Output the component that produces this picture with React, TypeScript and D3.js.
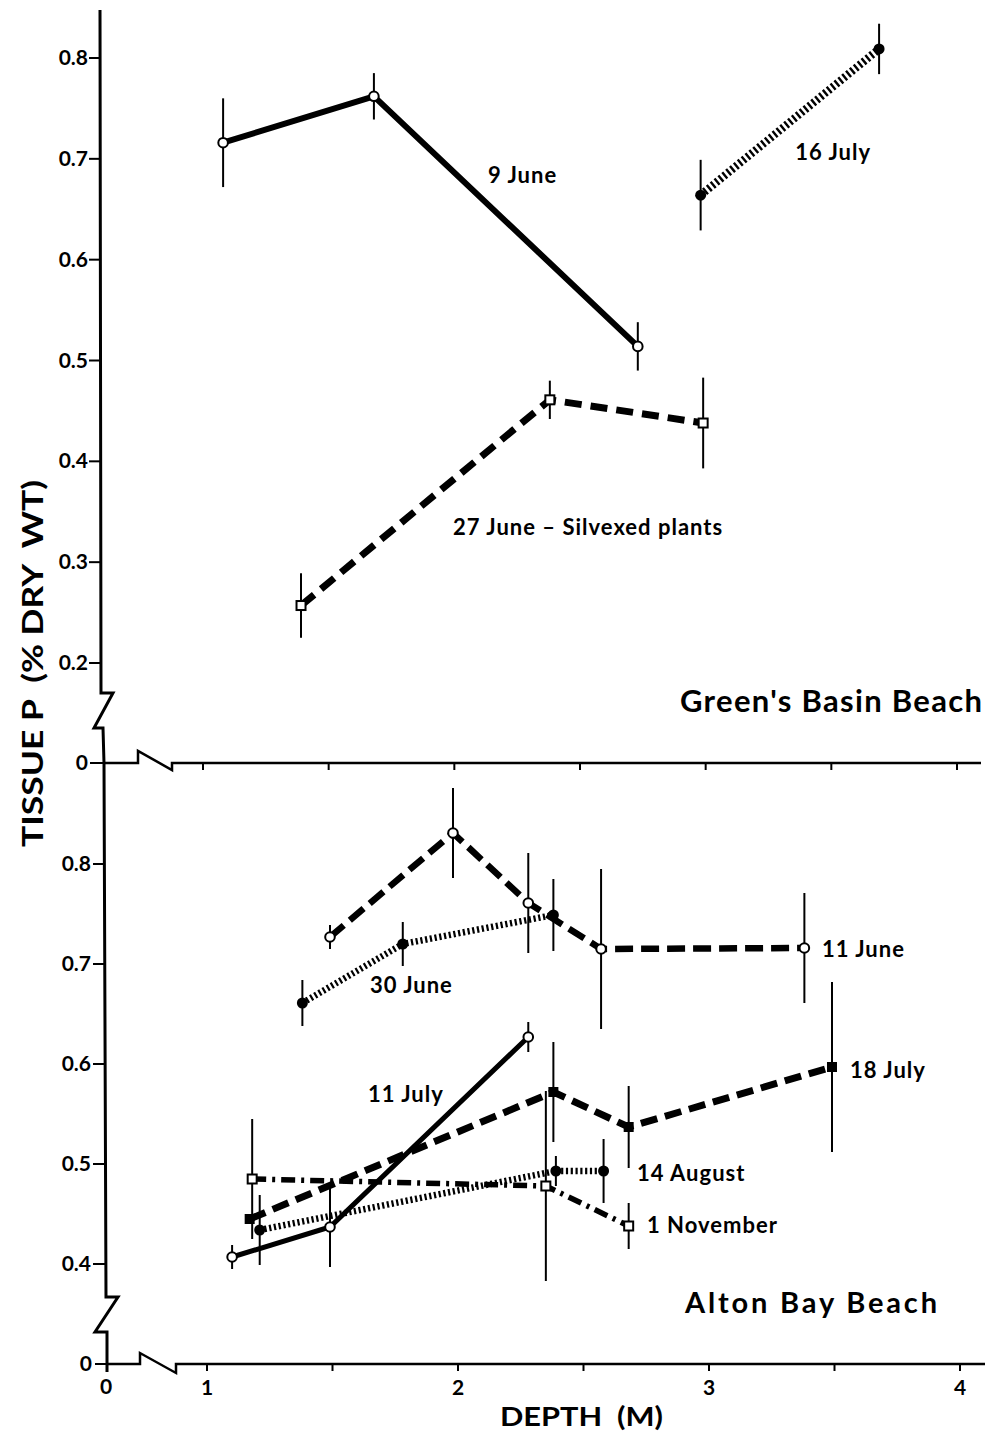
import React from "react";
import * as d3 from "d3";

// ---------- Green's Basin Beach ----------
const jun9Depth = [1.08, 1.68, 2.73];
const jun9P = [0.716, 0.762, 0.514];
const jun9Err = [0.044, 0.023, 0.024];

const jul16Depth = [2.98, 3.69];
const jul16P = [0.664, 0.809];
const jul16Err = [0.035, 0.025];

const jun27Depth = [1.39, 2.38, 2.99];
const jun27P = [0.257, 0.461, 0.438];
const jun27Err = [0.032, 0.019, 0.045];

// ---------- Alton Bay Beach ----------
const jun11Depth = [1.49, 1.98, 2.28, 2.57, 3.38];
const jun11P = [0.727, 0.831, 0.761, 0.715, 0.716];
const jun11Err = [0.012, 0.045, 0.05, 0.08, 0.055];

const jun30Depth = [1.38, 1.78, 2.38];
const jun30P = [0.661, 0.72, 0.749];
const jun30Err = [0.023, 0.022, 0.036];

const jul11Depth = [1.1, 1.49, 2.28];
const jul11P = [0.407, 0.437, 0.627];
const jul11Err = [0.012, 0.04, 0.015];

const jul18Depth = [1.17, 2.38, 2.68, 3.49];
const jul18P = [0.445, 0.572, 0.537, 0.597];
const jul18Err = [0.0, 0.05, 0.041, 0.085];

const aug14Depth = [1.21, 2.39, 2.58];
const aug14P = [0.434, 0.493, 0.493];
const aug14Err = [0.035, 0.015, 0.032];

const nov1Depth = [1.18, 2.35, 2.68];
const nov1P = [0.485, 0.478, 0.438];
const nov1Err = [0.06, 0.095, 0.023];

// ---------- ticks ----------
const yTicksTop = [0.2, 0.3, 0.4, 0.5, 0.6, 0.7, 0.8];
const yTicksBottom = [0.4, 0.5, 0.6, 0.7, 0.8];
const xTicks = [1, 1.5, 2, 2.5, 3, 3.5, 4];
const xTickLabels = [1, 2, 3, 4];

// ---------- labels (data coordinates) ----------
const topLabels = [
  { text: "9 June", d: 2.134, v: 0.676 },
  { text: "16 July", d: 3.356, v: 0.699 },
  { text: "27 June \u2013 Silvexed plants", d: 1.995, v: 0.327 },
];
const bottomLabels = [
  { text: "30 June", d: 1.649, v: 0.671 },
  { text: "11 June", d: 3.45, v: 0.707 },
  { text: "18 July", d: 3.562, v: 0.586 },
  { text: "11 July", d: 1.641, v: 0.562 },
  { text: "14 August", d: 2.713, v: 0.483 },
  { text: "1 November", d: 2.753, v: 0.431 },
];

type Style = { dash: string; width: number; marker: "oc" | "fc" | "os" | "fs" };

const FONT = "Lato, 'DejaVu Sans', sans-serif";

function zip(dep: number[], p: number[], e: number[]) {
  return dep.map((d, i) => ({ d, v: p[i], e: e[i] }));
}

export default function App() {
  const W = 987,
    H = 1439;
  const xTop = d3.scaleLinear().domain([1, 4]).range([203, 957]);
  const yTop = d3.scaleLinear().domain([0.2, 0.8]).range([663, 58]);
  const xBot = d3.scaleLinear().domain([1, 4]).range([207, 960]);
  const yBot = d3.scaleLinear().domain([0.4, 0.8]).range([1264, 864]);

  const topSeries: { pts: any[]; st: Style }[] = [
    { pts: zip(jun9Depth, jun9P, jun9Err), st: { dash: "", width: 6, marker: "oc" } },
    { pts: zip(jul16Depth, jul16P, jul16Err), st: { dash: "2.4,2.6", width: 8, marker: "fc" } },
    { pts: zip(jun27Depth, jun27P, jun27Err), st: { dash: "17,9", width: 7, marker: "os" } },
  ];
  const botSeries: { pts: any[]; st: Style }[] = [
    { pts: zip(jun11Depth, jun11P, jun11Err), st: { dash: "18,8", width: 6.5, marker: "oc" } },
    { pts: zip(jun30Depth, jun30P, jun30Err), st: { dash: "2.2,2.6", width: 6.5, marker: "fc" } },
    { pts: zip(jul18Depth, jul18P, jul18Err), st: { dash: "17,8", width: 7, marker: "fs" } },
    { pts: zip(aug14Depth, aug14P, aug14Err), st: { dash: "2.2,2.6", width: 6.5, marker: "fc" } },
    { pts: zip(nov1Depth, nov1P, nov1Err), st: { dash: "14,6,3,6", width: 5.5, marker: "os" } },
    { pts: zip(jul11Depth, jul11P, jul11Err), st: { dash: "", width: 5, marker: "oc" } },
  ];

  const renderPanel = (
    series: { pts: any[]; st: Style }[],
    x: d3.ScaleLinear<number, number>,
    y: d3.ScaleLinear<number, number>,
    key: string
  ) => {
    const line = d3
      .line<any>()
      .x((p) => x(p.d))
      .y((p) => y(p.v));
    return (
      <g key={key}>
        {series.map((s, i) => (
          <g key={"e" + i}>
            {s.pts.map((p, j) =>
              p.e > 0 ? (
                <line
                  key={j}
                  x1={x(p.d)}
                  x2={x(p.d)}
                  y1={y(p.v + p.e)}
                  y2={y(p.v - p.e)}
                  stroke="#000"
                  strokeWidth={2}
                />
              ) : null
            )}
          </g>
        ))}
        {series.map((s, i) => (
          <path
            key={"l" + i}
            d={line(s.pts) || ""}
            fill="none"
            stroke="#000"
            strokeWidth={s.st.width}
            strokeDasharray={s.st.dash || undefined}
          />
        ))}
        {series.map((s, i) => (
          <g key={"m" + i}>
            {s.pts.map((p, j) => {
              const cx = x(p.d),
                cy = y(p.v);
              const m = s.st.marker;
              if (m === "oc")
                return <circle key={j} cx={cx} cy={cy} r={4.8} fill="#fff" stroke="#000" strokeWidth={2} />;
              if (m === "fc") return <circle key={j} cx={cx} cy={cy} r={5.5} fill="#000" />;
              if (m === "os")
                return (
                  <rect key={j} x={cx - 4.5} y={cy - 4.5} width={9} height={9} fill="#fff" stroke="#000" strokeWidth={2} />
                );
              return <rect key={j} x={cx - 5} y={cy - 5} width={10} height={10} fill="#000" />;
            })}
          </g>
        ))}
      </g>
    );
  };

  const fmt = d3.format(".1f");

  return (
    <svg
      width={W}
      height={H}
      viewBox={`0 0 ${W} ${H}`}
      style={{ position: "absolute", left: 0, top: 0, background: "#fff" }}
    >
      <rect x={0} y={0} width={W} height={H} fill="#fff" />

      {/* ---------- axes ---------- */}
      <path
        d="M100,10 L101,693 L113,693 L94,728 L103,728 L104,763 L106,1297 L118,1297 L95,1332 L107,1332 L107,1372"
        fill="none"
        stroke="#000"
        strokeWidth={3}
        strokeLinejoin="miter"
      />
      <path
        d="M103,763 L138,763 L138,751 L172,770 L172,763 L981,763"
        fill="none"
        stroke="#000"
        strokeWidth={2.5}
      />
      <path
        d="M107,1364 L140,1364 L140,1353 L176,1373 L176,1364 L985,1364"
        fill="none"
        stroke="#000"
        strokeWidth={2.5}
      />

      {/* y ticks top */}
      {yTicksTop.map((t) => (
        <g key={"yt" + t}>
          <line x1={89} x2={101} y1={yTop(t)} y2={yTop(t)} stroke="#000" strokeWidth={2} />
          <text
            x={88}
            y={yTop(t) + 7}
            textAnchor="end"
            fontFamily={FONT}
            fontWeight={700}
            fontSize={21}
          >
            {fmt(t)}
          </text>
        </g>
      ))}
      <line x1={90} x2={104} y1={763} y2={763} stroke="#000" strokeWidth={2} />
      <text x={88} y={770} textAnchor="end" fontFamily={FONT} fontWeight={700} fontSize={21}>
        0
      </text>

      {/* y ticks bottom */}
      {yTicksBottom.map((t) => (
        <g key={"yb" + t}>
          <line x1={93} x2={105} y1={yBot(t)} y2={yBot(t)} stroke="#000" strokeWidth={2} />
          <text
            x={91}
            y={yBot(t) + 7}
            textAnchor="end"
            fontFamily={FONT}
            fontWeight={700}
            fontSize={21}
          >
            {fmt(t)}
          </text>
        </g>
      ))}
      <line x1={95} x2={107} y1={1364} y2={1364} stroke="#000" strokeWidth={2} />
      <text x={92} y={1371} textAnchor="end" fontFamily={FONT} fontWeight={700} fontSize={21}>
        0
      </text>

      {/* x ticks */}
      {xTicks.map((t) => (
        <line key={"xt" + t} x1={xTop(t)} x2={xTop(t)} y1={763} y2={770} stroke="#000" strokeWidth={2} />
      ))}
      {xTicks.map((t) => (
        <line key={"xb" + t} x1={xBot(t)} x2={xBot(t)} y1={1364} y2={1371} stroke="#000" strokeWidth={2} />
      ))}
      {xTickLabels.map((t) => (
        <text
          key={"xl" + t}
          x={xBot(t)}
          y={1395}
          textAnchor="middle"
          fontFamily={FONT}
          fontWeight={700}
          fontSize={21}
        >
          {t}
        </text>
      ))}
      <text x={106} y={1394} textAnchor="middle" fontFamily={FONT} fontWeight={700} fontSize={21}>
        0
      </text>

      {/* axis titles */}
      <text
        x={500}
        y={1426}
        fontFamily={FONT}
        fontWeight={700}
        fontSize={26}
        textLength={163}
        lengthAdjust="spacingAndGlyphs"
        style={{ whiteSpace: "pre" }}
      >
        {"DEPTH  (M)"}
      </text>
      <text
        transform="translate(43,847) rotate(-90)"
        x={0}
        y={0}
        fontFamily={FONT}
        fontWeight={700}
        fontSize={29}
        textLength={367}
        lengthAdjust="spacingAndGlyphs"
        style={{ whiteSpace: "pre" }}
      >
        {"TISSUE P  (% DRY  WT)"}
      </text>

      {/* data */}
      {renderPanel(topSeries, xTop, yTop, "top")}
      {renderPanel(botSeries, xBot, yBot, "bot")}

      {/* annotations */}
      {topLabels.map((l) => (
        <text
          key={l.text}
          x={xTop(l.d)}
          y={yTop(l.v)}
          fontFamily={FONT}
          fontWeight={700}
          fontSize={22}
          letterSpacing={1}
        >
          {l.text}
        </text>
      ))}
      {bottomLabels.map((l) => (
        <text
          key={l.text}
          x={xBot(l.d)}
          y={yBot(l.v)}
          fontFamily={FONT}
          fontWeight={700}
          fontSize={22}
          letterSpacing={1}
        >
          {l.text}
        </text>
      ))}
      <text
        x={680}
        y={712}
        fontFamily={FONT}
        fontWeight={700}
        fontSize={31}
        textLength={302}
        lengthAdjust="spacing"
      >
        Green's Basin Beach
      </text>
      <text
        x={685}
        y={1313}
        fontFamily={FONT}
        fontWeight={700}
        fontSize={29}
        textLength={252}
        lengthAdjust="spacing"
      >
        Alton Bay Beach
      </text>
    </svg>
  );
}
